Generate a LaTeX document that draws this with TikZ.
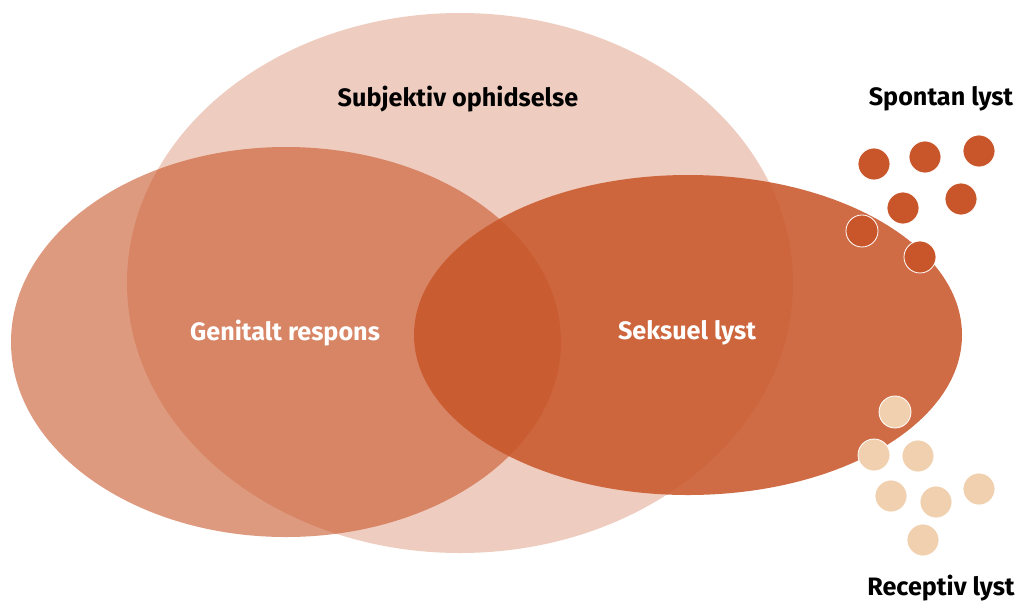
\documentclass[tikz,border=0pt]{standalone}
\usepackage{fontspec}
\setmainfont{Fira Sans}
\definecolor{rust}{HTML}{C8562A}
\definecolor{peach}{HTML}{F0D0AE}
\tikzset{
    bigtext/.style={font=\bfseries\fontsize{21.5}{24}\selectfont},
    dotmark/.style={draw=white, line width=0.7pt},
}
\begin{document}
\begin{tikzpicture}[x=0.03cm, y=-0.03cm]
    \useasboundingbox (0,0) rectangle (1033,605);
    % the three ellipses
    \fill[rust, opacity=0.3] (460,283) ellipse [x radius=333, y radius=270];
    \fill[rust, opacity=0.6] (286,342) ellipse [x radius=275, y radius=195];
    \fill[rust, opacity=0.87] (688,335) ellipse [x radius=274, y radius=160];

    \node[bigtext] (subj) at (458,99) {Subjektiv ophidselse};
    \node[bigtext, text=white] (genital) at (285,333) {Genitalt respons};
    \node[bigtext, text=white] (seksuel) at (687,333) {Seksuel lyst};

    % dots
    \foreach \x/\y in {874/164, 925/157, 979/151, 903/208, 961/199, 862/231, 920/257}
        \fill[rust, dotmark] (\x,\y) circle [radius=16];
    \foreach \x/\y in {895/412, 874/455, 918/456, 891/496, 936/502, 979/489, 923/540}
        \fill[peach, dotmark] (\x,\y) circle [radius=16];

    \node[bigtext] (spontan) at (941,99) {Spontan lyst};
    \node[bigtext] (receptiv) at (941,588) {Receptiv lyst};
\end{tikzpicture}
\end{document}
